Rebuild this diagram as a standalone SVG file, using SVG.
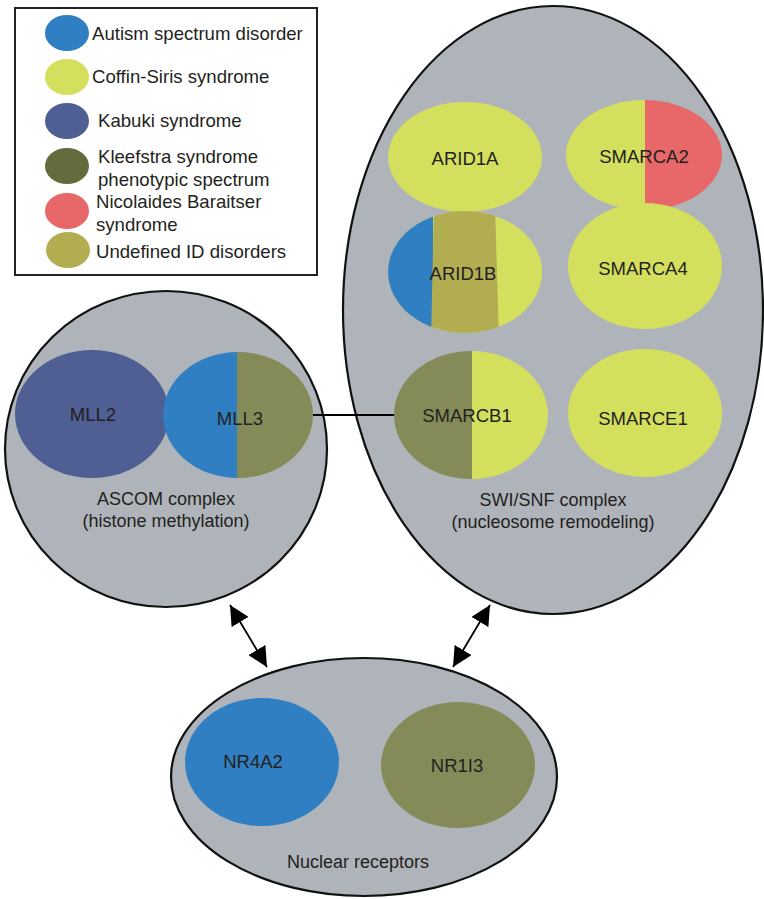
<svg xmlns="http://www.w3.org/2000/svg" width="764" height="899" viewBox="0 0 764 899">
<style>
.cx{fill:#afb4ba;stroke:#111;stroke-width:2.2}
.t{font-family:"Liberation Sans",Arial,sans-serif;fill:#231f20}
.lg{font-size:18.6px}
.nd{font-size:18.5px;text-anchor:middle}
.cl{font-size:18px;text-anchor:middle}
.blue{fill:#2f7fc2}
.yel{fill:#d4df5e}
.kab{fill:#4f5e93}
.olv{fill:#848b58}
.kle{fill:#636c3c}
.red{fill:#e8686a}
.und{fill:#b2ad50}
</style>
<defs>
<marker id="ah" viewBox="0 0 10 10" refX="10" refY="5" markerWidth="11" markerHeight="11" orient="auto-start-reverse" markerUnits="strokeWidth">
<path d="M0,0 L10,5 L0,10 z" fill="#000"/>
</marker>
<clipPath id="cpA2"><ellipse cx="644" cy="155" rx="78" ry="55"/></clipPath>
<clipPath id="cpB"><ellipse cx="465" cy="272" rx="77" ry="61"/></clipPath>
<clipPath id="cpSB1"><ellipse cx="471" cy="415" rx="77" ry="64"/></clipPath>
<clipPath id="cpM3"><ellipse cx="238" cy="415" rx="75" ry="63"/></clipPath>
</defs>
<rect width="764" height="899" fill="#fff"/>

<g id="legend">
<rect x="15" y="8" width="302" height="267" fill="#fff" stroke="#222" stroke-width="2"/>
<ellipse class="blue" cx="67" cy="33" rx="22" ry="18"/>
<ellipse class="yel" cx="67" cy="77" rx="22" ry="18"/>
<ellipse class="kab" cx="67" cy="121" rx="22" ry="18"/>
<ellipse class="kle" cx="67" cy="166" rx="22" ry="18"/>
<ellipse class="red" cx="67" cy="211" rx="22" ry="18"/>
<ellipse class="und" cx="68" cy="250" rx="22" ry="18"/>
<text class="t lg" x="92" y="40">Autism spectrum disorder</text>
<text class="t lg" x="92" y="83">Coffin-Siris syndrome</text>
<text class="t lg" x="98" y="127">Kabuki syndrome</text>
<text class="t lg" x="98" y="163">Kleefstra syndrome</text>
<text class="t lg" x="98" y="186">phenotypic spectrum</text>
<text class="t lg" x="96" y="208">Nicolaides Baraitser</text>
<text class="t lg" x="96" y="231">syndrome</text>
<text class="t lg" x="96" y="258">Undefined ID disorders</text>
</g>

<g id="swisnf">
<ellipse class="cx" cx="553" cy="310" rx="210" ry="304"/>
<text class="t cl" x="553" y="506">SWI/SNF complex</text>
<text class="t cl" x="553" y="528">(nucleosome remodeling)</text>
</g>

<g id="ascom">
<ellipse class="cx" cx="166" cy="449" rx="161" ry="158"/>
<text class="t cl" x="166" y="505">ASCOM complex</text>
<text class="t cl" x="166" y="527">(histone methylation)</text>
</g>

<g id="nuclear">
<ellipse class="cx" cx="364" cy="777" rx="193" ry="119"/>
<text class="t cl" x="358" y="868">Nuclear receptors</text>
</g>

<g id="connectors" stroke="#000" fill="none">
<line x1="313" y1="415" x2="395" y2="415" stroke-width="2"/>
<line x1="230" y1="605" x2="267" y2="667" stroke-width="1.8" marker-start="url(#ah)" marker-end="url(#ah)"/>
<line x1="490" y1="605" x2="453" y2="667" stroke-width="1.8" marker-start="url(#ah)" marker-end="url(#ah)"/>
</g>

<g id="ARID1A">
<ellipse class="yel" cx="465" cy="157" rx="77" ry="55"/>
<text class="t nd" x="465" y="165">ARID1A</text>
</g>
<g id="SMARCA2">
<g clip-path="url(#cpA2)">
<rect class="yel" x="560" y="95" width="85" height="120"/>
<rect class="red" x="645" y="95" width="85" height="120"/>
</g>
<text class="t nd" x="644" y="163">SMARCA2</text>
</g>
<g id="ARID1B">
<g clip-path="url(#cpB)">
<rect class="yel" x="380" y="205" width="170" height="135"/>
<rect class="blue" x="380" y="205" width="53" height="135"/>
<polygon class="und" points="434,205 495,205 499,340 431,340"/>
</g>
<text class="t nd" x="463" y="280">ARID1B</text>
</g>
<g id="SMARCA4">
<ellipse class="yel" cx="645" cy="266" rx="77" ry="63"/>
<text class="t nd" x="643" y="275">SMARCA4</text>
</g>
<g id="SMARCB1">
<g clip-path="url(#cpSB1)">
<rect class="olv" x="390" y="345" width="82" height="140"/>
<rect class="yel" x="472" y="345" width="82" height="140"/>
</g>
<text class="t nd" x="467" y="422">SMARCB1</text>
</g>
<g id="SMARCE1">
<ellipse class="yel" cx="645" cy="413" rx="77" ry="64"/>
<text class="t nd" x="643" y="425">SMARCE1</text>
</g>
<g id="MLL2">
<ellipse class="kab" cx="92" cy="414" rx="77" ry="64"/>
<text class="t nd" x="93" y="421">MLL2</text>
</g>
<g id="MLL3">
<g clip-path="url(#cpM3)">
<rect class="blue" x="160" y="350" width="77" height="130"/>
<rect class="olv" x="237" y="350" width="80" height="130"/>
</g>
<text class="t nd" x="240" y="425">MLL3</text>
</g>
<g id="NR4A2">
<ellipse class="blue" cx="262" cy="762" rx="77" ry="64"/>
<text class="t nd" x="253" y="768">NR4A2</text>
</g>
<g id="NR1I3">
<ellipse class="olv" cx="458" cy="765" rx="77" ry="63"/>
<text class="t nd" x="457" y="772">NR1I3</text>
</g>
</svg>
